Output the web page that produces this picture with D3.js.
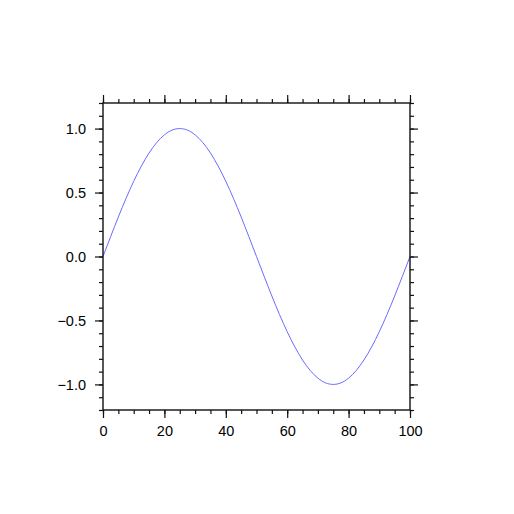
<!DOCTYPE html>
<html>
<head>
<meta charset="utf-8">
<script src="https://cdn.jsdelivr.net/npm/d3@7"></script>
<style>
  body { margin: 0; background: #fff; }
  svg { display: block; }
</style>
</head>
<body>
<script>
// values, x every 2.5
var xValues = d3.range(0, 100.01, 2.5);
var yValues = [
  0.000, 0.156, 0.309, 0.454, 0.588, 0.707, 0.809, 0.891, 0.951, 0.988,
  1.000, 0.988, 0.951, 0.891, 0.809, 0.707, 0.588, 0.454, 0.309, 0.156,
  0.000, -0.156, -0.309, -0.454, -0.588, -0.707, -0.809, -0.891, -0.951, -0.988,
  -1.000, -0.988, -0.951, -0.891, -0.809, -0.707, -0.588, -0.454, -0.309, -0.156,
  0.000
];
var xTicks = [0, 20, 40, 60, 80, 100];
var yTicks = [-1.0, -0.5, 0.0, 0.5, 1.0];

var W = 514, H = 514;
var plotL = 103, plotR = 410, plotT = 103, plotB = 410;

var svg = d3.select('body').append('svg')
  .attr('width', W)
  .attr('height', H);

var x = d3.scaleLinear().domain([0, 100]).range([plotL, plotR]);
var y = d3.scaleLinear().domain([-1.2, 1.2]).range([plotB, plotT]);

var xMinor = d3.range(0, 100.01, 5);
var yMinor = d3.range(-12, 12.01, 1).map(d => d / 10);

function styleAxis(g) {
  g.select('.domain').remove();
  g.selectAll('.tick line').attr('stroke', '#111').attr('stroke-width', 1.2);
  g.selectAll('.tick text')
    .attr('font-family', 'Liberation Sans, Arial, Helvetica, sans-serif')
    .attr('font-size', '14.5px')
    .attr('fill', '#000');
}

// minor ticks on all four sides
svg.append('g').attr('transform', 'translate(0,' + plotB + ')')
  .call(d3.axisBottom(x).tickValues(xMinor).tickSize(4).tickFormat(''))
  .call(styleAxis);
svg.append('g').attr('transform', 'translate(0,' + plotT + ')')
  .call(d3.axisTop(x).tickValues(xMinor).tickSize(4).tickFormat(''))
  .call(styleAxis);
svg.append('g').attr('transform', 'translate(' + plotL + ',0)')
  .call(d3.axisLeft(y).tickValues(yMinor).tickSize(4).tickFormat(''))
  .call(styleAxis);
svg.append('g').attr('transform', 'translate(' + plotR + ',0)')
  .call(d3.axisRight(y).tickValues(yMinor).tickSize(4).tickFormat(''))
  .call(styleAxis);

// major ticks + labels
svg.append('g').attr('transform', 'translate(0,' + plotB + ')')
  .call(d3.axisBottom(x).tickValues(xTicks).tickSize(8).tickPadding(8).tickFormat(d3.format('d')))
  .call(styleAxis);
svg.append('g').attr('transform', 'translate(0,' + plotT + ')')
  .call(d3.axisTop(x).tickValues(xTicks).tickSize(8).tickFormat(''))
  .call(styleAxis);
svg.append('g').attr('transform', 'translate(' + plotL + ',0)')
  .call(d3.axisLeft(y).tickValues(yTicks).tickSize(8).tickPadding(9).tickFormat(d3.format('.1f')))
  .call(styleAxis);
svg.append('g').attr('transform', 'translate(' + plotR + ',0)')
  .call(d3.axisRight(y).tickValues(yTicks).tickSize(8).tickFormat(''))
  .call(styleAxis);

// the curve
var line = d3.line()
  .x((d, i) => x(xValues[i]))
  .y(d => y(d))
  .curve(d3.curveNatural);

svg.append('path')
  .datum(yValues)
  .attr('fill', 'none')
  .attr('stroke', '#6b6bff')
  .attr('stroke-width', 1)
  .attr('d', line);

// frame
svg.append('rect')
  .attr('x', plotL)
  .attr('y', plotT)
  .attr('width', plotR - plotL)
  .attr('height', plotB - plotT)
  .attr('fill', 'none')
  .attr('stroke', '#111')
  .attr('stroke-width', 1.4);
</script>
</body>
</html>
